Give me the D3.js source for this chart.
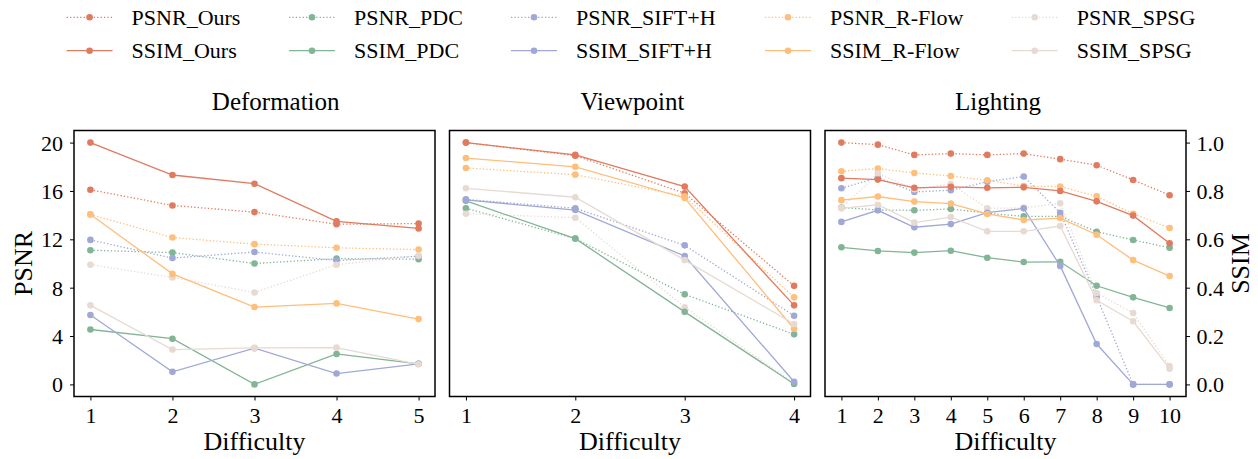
<!DOCTYPE html>
<html><head><meta charset="utf-8">
<script src="https://cdn.jsdelivr.net/npm/d3@7"></script>
<style>
html,body{margin:0;padding:0;background:#fff;}
svg{display:block;font-family:"Liberation Serif","DejaVu Serif",serif;}
</style></head>
<body>
<svg id="c" width="1258" height="459"></svg>
<script>
// ---------- data ----------
const methods = ["Ours", "PDC", "SIFT+H", "R-Flow", "SPSG"];
const colors = ["#E07B5F", "#82B596", "#A0A8D6", "#FFBE7A", "#E7DAD2"];
const titles = ["Deformation", "Viewpoint", "Lighting"];
const difficultyDeformation = [1, 2, 3, 4, 5];
const difficultyViewpoint = [1, 2, 3, 4];
const difficultyLighting = [1, 2, 3, 4, 5, 6, 7, 8, 9, 10];
const psnrTicks = [0, 4, 8, 12, 16, 20];
const ssimTicks = [0, 0.2, 0.4, 0.6, 0.8, 1.0];

// rows follow `methods`
const deformationPSNR = [
  [16.1, 14.8, 14.25, 13.25, 13.3],
  [11.1, 10.9, 10.0, 10.4, 10.35],
  [11.95, 10.45, 10.95, 10.25, 10.6],
  [14.05, 12.15, 11.6, 11.3, 11.15],
  [9.9, 8.85, 7.6, 9.9, 10.65]
];
const deformationSSIM = [
  [1.0, 0.866, 0.83, 0.674, 0.645],
  [0.227, 0.189, 0.0, 0.126, 0.085],
  [0.287, 0.052, 0.15, 0.045, 0.085],
  [0.703, 0.457, 0.32, 0.335, 0.27],
  [0.327, 0.144, 0.151, 0.152, 0.083]
];
const viewpointPSNR = [
  [20.0, 18.92, 15.81, 8.15],
  [14.57, 12.06, 7.45, 4.14],
  [15.3, 14.57, 11.5, 5.68],
  [17.9, 17.35, 15.56, 7.2],
  [14.12, 13.79, 6.38, 0.1]
];
const viewpointSSIM = [
  [1.0, 0.949, 0.818, 0.327],
  [0.759, 0.603, 0.30, 0.002],
  [0.763, 0.721, 0.531, 0.011],
  [0.936, 0.90, 0.771, 0.23],
  [0.811, 0.774, 0.514, 0.25]
];
const lightingPSNR = [
  [20.0, 19.83, 18.98, 19.09, 18.98, 19.09, 18.63, 18.13, 16.91, 15.65],
  [14.62, 14.43, 14.4, 14.51, 14.16, 13.9, 13.9, 12.63, 11.94, 11.31],
  [16.22, 17.1, 15.92, 16.06, 16.77, 17.19, 14.2, 7.25, 0, 0],
  [17.63, 17.85, 17.49, 17.24, 16.89, 16.4, 16.36, 15.56, 14.12, 12.94],
  [14.6, 17.43, 16.14, 16.58, 14.57, 14.6, 14.98, 7.56, 5.9, 1.51]
];
const lightingSSIM = [
  [0.853, 0.847, 0.813, 0.817, 0.813, 0.815, 0.80, 0.757, 0.698, 0.584],
  [0.567, 0.552, 0.545, 0.553, 0.524, 0.506, 0.507, 0.408, 0.36, 0.316],
  [0.672, 0.72, 0.65, 0.663, 0.71, 0.728, 0.49, 0.167, 0, 0],
  [0.762, 0.777, 0.756, 0.748, 0.705, 0.68, 0.688, 0.619, 0.514, 0.448],
  [0.728, 0.743, 0.669, 0.692, 0.633, 0.633, 0.655, 0.348, 0.261, 0.065]
];

// ---------- layout ----------
const svg = d3.select("#c");
const FONT = '"Liberation Serif","DejaVu Serif",serif';
const panelLeft = [74, 449.5, 825];
const panelW = 361;
const plotTop = 130.5, plotBottom = 396.5;
const titleX = [275.7, 632.5, 998];

const panels = [
  {x: difficultyDeformation, psnr: deformationPSNR, ssim: deformationSSIM},
  {x: difficultyViewpoint, psnr: viewpointPSNR, ssim: viewpointSSIM},
  {x: difficultyLighting, psnr: lightingPSNR, ssim: lightingSSIM}
];

const yP = d3.scaleLinear().domain([-1, 21]).range([plotBottom, plotTop]);
const yS = d3.scaleLinear().domain([-0.05, 1.05]).range([plotBottom, plotTop]);

function styleAxis(g) {
  g.select(".domain").remove();
  g.selectAll(".tick line").attr("stroke", "#000").attr("stroke-width", 1);
  g.selectAll(".tick text").attr("font-family", FONT).attr("font-size", 22).attr("fill", "#000");
}

panels.forEach((p, i) => {
  const n = p.x.length;
  const m = 0.05 * (n - 1);
  const x = d3.scaleLinear().domain([1 - m, n + m]).range([panelLeft[i], panelLeft[i] + panelW]);
  const g = svg.append("g");

  const gx = g.append("g").attr("transform", `translate(0,${plotBottom})`)
    .call(d3.axisBottom(x).tickValues(p.x).tickFormat(d3.format("d")).tickSize(4).tickPadding(7));
  styleAxis(gx);

  if (i === 0) {
    const gy = g.append("g").attr("transform", `translate(${panelLeft[i]},0)`)
      .call(d3.axisLeft(yP).tickValues(psnrTicks).tickSize(4).tickPadding(7));
    styleAxis(gy);
    gy.selectAll(".tick text").attr("dy", "0.34em");
  }
  if (i === 2) {
    const gy2 = g.append("g").attr("transform", `translate(${panelLeft[i] + panelW},0)`)
      .call(d3.axisRight(yS).tickValues(ssimTicks).tickFormat(d3.format(".1f")).tickSize(4).tickPadding(6.5));
    styleAxis(gy2);
    gy2.selectAll(".tick text").attr("dy", "0.34em");
  }

  const markG = g.append("g");
  const drawSeries = (vals, yScale, dotted, color) => {
    const line = d3.line().x((d, k) => x(p.x[k])).y(d => yScale(d));
    markG.append("path").datum(vals)
      .attr("d", line).attr("fill", "none").attr("stroke", color)
      .attr("stroke-width", 1.3)
      .attr("stroke-dasharray", dotted ? "1.3,2.1" : null);
    markG.selectAll(null).data(vals).enter().append("circle")
      .attr("cx", (d, k) => x(p.x[k])).attr("cy", d => yScale(d))
      .attr("r", 3.3).attr("fill", color);
  };
  methods.forEach((mth, j) => drawSeries(p.psnr[j], yP, true, colors[j]));
  methods.forEach((mth, j) => drawSeries(p.ssim[j], yS, false, colors[j]));

  g.append("rect").attr("x", panelLeft[i]).attr("y", plotTop)
    .attr("width", panelW).attr("height", plotBottom - plotTop)
    .attr("fill", "none").attr("stroke", "#000").attr("stroke-width", 1.5);

  g.append("text").attr("x", titleX[i]).attr("y", 110).attr("text-anchor", "middle")
    .attr("font-family", FONT).attr("font-size", 25).text(titles[i]);
  g.append("text").attr("x", panelLeft[i] + panelW / 2).attr("y", 450).attr("text-anchor", "middle")
    .attr("font-family", FONT).attr("font-size", 26).text("Difficulty");
});

svg.append("text").attr("transform", `translate(23.5,${(plotTop + plotBottom) / 2}) rotate(-90)`)
  .attr("text-anchor", "middle").attr("dy", "0.34em")
  .attr("font-family", FONT).attr("font-size", 26).text("PSNR");
svg.append("text").attr("transform", `translate(1240,${(plotTop + plotBottom) / 2}) rotate(-90)`)
  .attr("text-anchor", "middle").attr("dy", "0.34em")
  .attr("font-family", FONT).attr("font-size", 26).text("SSIM");

// legend
const legendX = [66.6, 289, 511, 765, 1011.7];
const legendY = [17.3, 50.7];
const lg = svg.append("g");
methods.forEach((mth, j) => {
  ["PSNR", "SSIM"].forEach((metric, r) => {
    const x0 = legendX[j], y0 = legendY[r];
    lg.append("line").attr("x1", x0).attr("x2", x0 + 46).attr("y1", y0).attr("y2", y0)
      .attr("stroke", colors[j]).attr("stroke-width", 1.3)
      .attr("stroke-dasharray", r === 0 ? "1.3,2.1" : null);
    lg.append("circle").attr("cx", x0 + 23).attr("cy", y0).attr("r", 3.3).attr("fill", colors[j]);
    lg.append("text").attr("x", x0 + 65).attr("y", y0).attr("dy", "0.34em")
      .attr("font-family", FONT).attr("font-size", 22).text(`${metric}_${mth}`);
  });
});
</script>
</body></html>
